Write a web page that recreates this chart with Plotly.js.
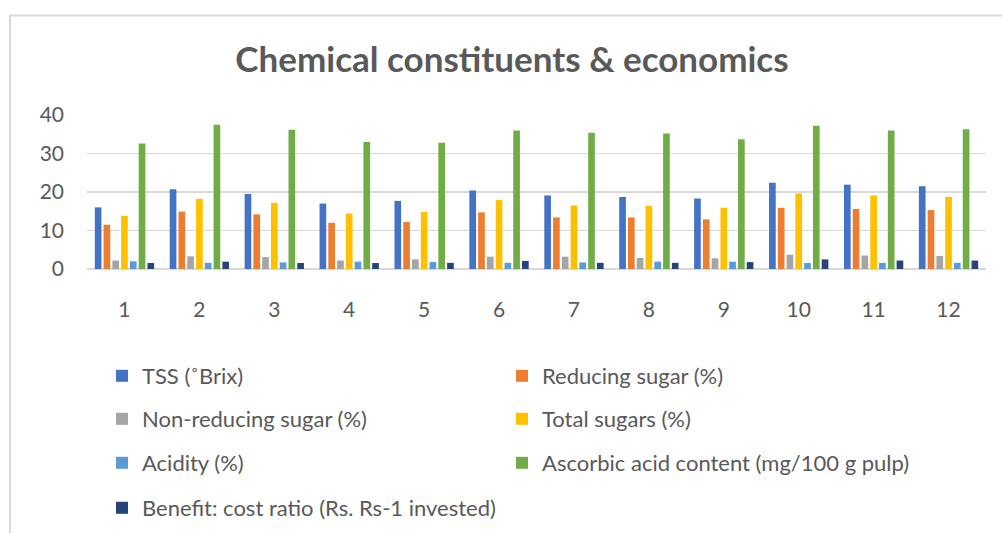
<!DOCTYPE html>
<html>
<head>
<meta charset="utf-8">
<script src="https://cdn.plot.ly/plotly-3.0.1.min.js"></script>
<style>html,body{margin:0;padding:0;background:#fff;}#chart{width:1002px;height:533px;}</style>
</head>
<body>
<div id="chart"></div>
<script>
const categories = ["1","2","3","4","5","6","7","8","9","10","11","12"];
const seriesNames = ["TSS (˚Brix)", "Reducing sugar (%)", "Non-reducing sugar (%)", "Total sugars (%)", "Acidity (%)", "Ascorbic acid content (mg/100 g pulp)", "Benefit: cost ratio (Rs. Rs-1 invested)"];
const tss = [16.0, 20.7, 19.5, 17.0, 17.7, 20.4, 19.1, 18.7, 18.3, 22.4, 21.9, 21.5];
const reducingSugar = [11.5, 14.9, 14.2, 12.0, 12.2, 14.7, 13.4, 13.4, 12.9, 15.9, 15.6, 15.3];
const nonReducingSugar = [2.2, 3.3, 3.1, 2.2, 2.5, 3.2, 3.2, 2.9, 2.8, 3.7, 3.5, 3.4];
const totalSugars = [13.8, 18.2, 17.2, 14.4, 14.8, 17.9, 16.5, 16.4, 15.9, 19.6, 19.1, 18.7];
const acidity = [2.0, 1.6, 1.7, 1.9, 1.8, 1.6, 1.7, 1.9, 1.9, 1.55, 1.6, 1.6];
const ascorbicAcid = [32.6, 37.5, 36.2, 33.0, 32.8, 36.0, 35.4, 35.2, 33.7, 37.2, 36.0, 36.3];
const benefitCost = [1.55, 1.9, 1.55, 1.55, 1.6, 2.1, 1.6, 1.6, 1.8, 2.5, 2.2, 2.2];

const allValues = [tss, reducingSugar, nonReducingSugar, totalSugars, acidity, ascorbicAcid, benefitCost];
const colors = ["#4472C4", "#ED7D31", "#A5A5A5", "#FFC000", "#5B9BD5", "#70AD47", "#264478"];
const legendIds = ["legend", "legend2", "legend3", "legend4", "legend5", "legend6", "legend7"];

const traces = allValues.map((vals, i) => ({
  type: "bar",
  name: seriesNames[i],
  x: categories,
  y: vals,
  marker: {color: colors[i]},
  legend: legendIds[i],
  showlegend: true,
  hoverinfo: "skip"
}));

const W = 1002, H = 533;
const legendCols = [102, 502];
const legendRows = [376, 419, 463, 508];
const legendFont = {family: "Lato, 'Open Sans', sans-serif", size: 22, color: "#595959"};

const layout = {
  width: W, height: H,
  showlegend: true,
  paper_bgcolor: "#ffffff",
  plot_bgcolor: "#ffffff",
  margin: {l: 87, r: 16, t: 115, b: 264, autoexpand: false},
  barmode: "group",
  bargap: 0.18,
  bargroupgap: 0.24,
  title: {
    text: "<b>Chemical constituents &amp; economics</b>",
    font: {family: "Lato, 'Open Sans', sans-serif", size: 35, color: "#595959"},
    xref: "container", yref: "container",
    x: 512 / W, y: 1 - 60 / H, xanchor: "center", yanchor: "middle"
  },
  xaxis: {
    type: "category",
    showgrid: false,
    showline: false,
    zeroline: false,
    ticks: "",
    ticklabelstandoff: 26,
    tickfont: {family: "Lato, 'Open Sans', sans-serif", size: 21, color: "#595959"}
  },
  yaxis: {
    range: [0, 40],
    dtick: 10,
    showgrid: true,
    gridcolor: "#d9d9d9",
    gridwidth: 1.3,
    zeroline: true,
    zerolinecolor: "#d9d9d9",
    zerolinewidth: 1.5,
    showline: false,
    ticks: "",
    ticklabelstandoff: 22,
    tickfont: {family: "Lato, 'Open Sans', sans-serif", size: 21, color: "#595959"},
    fixedrange: true
  },
  shapes: [
    {type: "line", xref: "paper", yref: "paper",
     x0: (9 - 87) / 899, x1: (1002 - 87) / 899, y0: (269 - 15.5) / 154, y1: (269 - 15.5) / 154,
     line: {color: "#d9d9d9", width: 2}},
    {type: "line", xref: "paper", yref: "paper",
     x0: (10 - 87) / 899, x1: (10 - 87) / 899, y0: (269 - 15) / 154, y1: (269 - 540) / 154,
     line: {color: "#d9d9d9", width: 2}}
  ]
};

legendIds.forEach((id, i) => {
  const col = i % 2, row = Math.floor(i / 2);
  layout[id] = {
    visible: true,
    xref: "container", yref: "container",
    x: legendCols[col] / W, y: 1 - legendRows[row] / H,
    xanchor: "left", yanchor: "middle",
    bgcolor: "rgba(0,0,0,0)",
    borderwidth: 0,
    font: legendFont
  };
});

Plotly.newPlot("chart", traces, layout, {displayModeBar: false, staticPlot: true});
</script>
</body>
</html>
